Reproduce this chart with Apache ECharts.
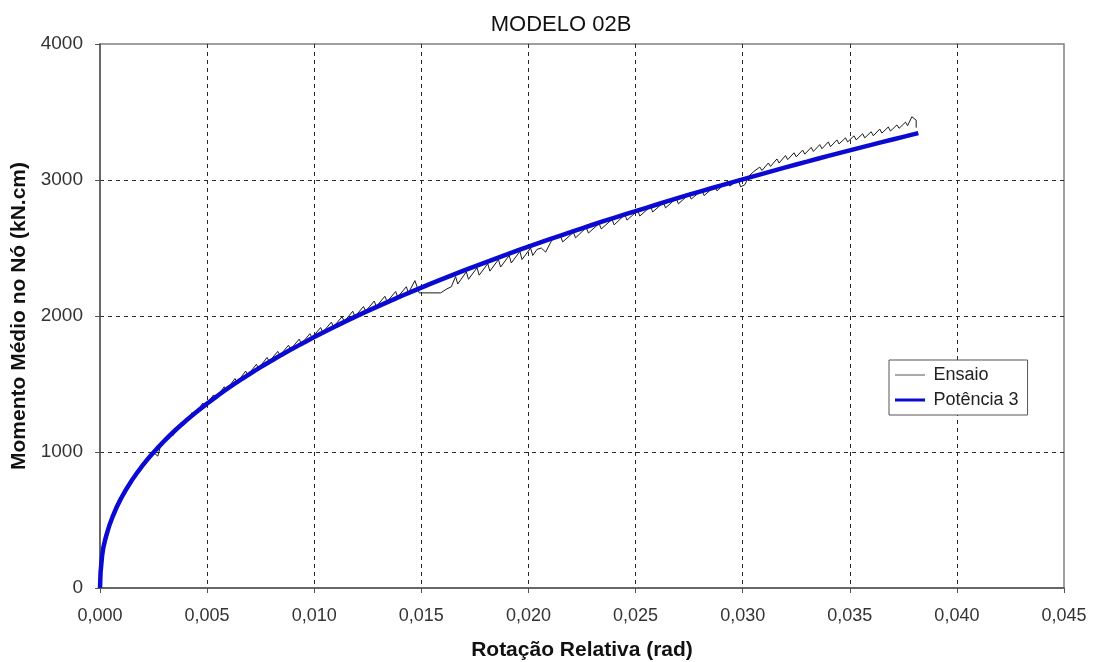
<!DOCTYPE html>
<html>
<head>
<meta charset="utf-8">
<title>MODELO 02B</title>
<script src="https://cdn.jsdelivr.net/npm/echarts@6/dist/echarts.min.js"></script>
<style>
  html, body { margin: 0; padding: 0; background: #ffffff; }
  #chart { width: 1096px; height: 662px; }
</style>
</head>
<body>
<div id="chart"></div>
<script>
// Test readings: relative rotation (rad) vs mean moment at the joint (kN.cm)
const ensaioRot = [
  0, 0.0001, 0.0003, 0.0006, 0.001, 0.0015, 0.002, 0.0025, 0.0027, 0.0028, 0.0030,
  0.0033, 0.0034, 0.0038, 0.0039, 0.0043, 0.0044, 0.0048, 0.0049, 0.0053, 0.0054,
  0.0058, 0.0059, 0.0063, 0.0064, 0.0068, 0.0069, 0.0073, 0.0074, 0.0078, 0.0079,
  0.0083, 0.0084, 0.0088, 0.0089, 0.0093, 0.0094, 0.0098, 0.0099, 0.0103, 0.0104,
  0.0108, 0.0109, 0.0113, 0.0114, 0.0118, 0.0119, 0.0123, 0.0124, 0.0128, 0.0129,
  0.0133, 0.0134, 0.0138, 0.0139, 0.0143, 0.0144, 0.0147, 0.0149, 0.0159, 0.0162,
  0.0164, 0.0166, 0.0167, 0.0171, 0.0172, 0.0176, 0.0177, 0.0181, 0.0182, 0.0186,
  0.0187, 0.0191, 0.0192, 0.0196, 0.0197, 0.0201, 0.0202, 0.0204, 0.0206, 0.0208,
  0.0211, 0.0215, 0.0216, 0.0221, 0.0222, 0.0227, 0.0228, 0.0233, 0.0234, 0.0239,
  0.0240, 0.0245, 0.0246, 0.0251, 0.0252, 0.0257, 0.0258, 0.0263, 0.0264, 0.0269,
  0.0270, 0.0275, 0.0276, 0.0281, 0.0282, 0.0287, 0.0288, 0.0293, 0.0294, 0.0298,
  0.0299, 0.0301, 0.0303, 0.0305, 0.0308, 0.0309, 0.0312, 0.0313, 0.0316, 0.0317,
  0.0320, 0.0321, 0.0324, 0.0325, 0.0328, 0.0329, 0.0332, 0.0333, 0.0336, 0.0337,
  0.0340, 0.0341, 0.0344, 0.0345, 0.0348, 0.0349, 0.0352, 0.0353, 0.0356, 0.0357,
  0.0360, 0.0361, 0.0364, 0.0365, 0.0368, 0.0369, 0.0372, 0.0373, 0.0376, 0.0377,
  0.0379, 0.0381, 0.0381
];
const ensaioMom = [
  0, 230, 380, 525, 660, 790, 905, 995, 970, 1030, 1085,
  1140, 1120, 1220, 1195, 1290, 1268, 1360, 1335, 1420, 1395,
  1480, 1455, 1540, 1510, 1595, 1565, 1645, 1615, 1695, 1665,
  1740, 1710, 1785, 1755, 1830, 1795, 1870, 1840, 1915, 1880,
  1955, 1920, 1995, 1960, 2035, 1995, 2070, 2035, 2110, 2070,
  2145, 2105, 2180, 2140, 2215, 2170, 2260, 2170, 2170, 2200,
  2215, 2290, 2235, 2325, 2270, 2355, 2300, 2385, 2330, 2415,
  2360, 2445, 2390, 2475, 2415, 2500, 2445, 2490, 2500, 2470,
  2560, 2585, 2545, 2615, 2575, 2650, 2610, 2680, 2640, 2710,
  2670, 2745, 2705, 2775, 2735, 2805, 2765, 2835, 2795, 2865,
  2825, 2895, 2860, 2925, 2885, 2955, 2920, 2990, 2955, 3000,
  2950, 2965, 3030, 3060, 3095, 3070, 3125, 3100, 3155, 3125,
  3180, 3150, 3200, 3170, 3220, 3190, 3240, 3210, 3260, 3230,
  3280, 3245, 3295, 3265, 3310, 3280, 3325, 3295, 3340, 3310,
  3355, 3325, 3375, 3345, 3390, 3360, 3405, 3380, 3425, 3400,
  3465, 3440, 3385
];

// Power trendline ("Potência 3")
const fitRot = [
  0, 0.0001, 0.0003, 0.0006, 0.001, 0.0015, 0.002, 0.0025, 0.003, 0.0035, 0.004,
  0.0045, 0.005, 0.0055, 0.006, 0.0065, 0.007, 0.0075, 0.008, 0.0085, 0.009, 0.0095,
  0.010, 0.011, 0.012, 0.013, 0.014, 0.015, 0.016, 0.017, 0.018, 0.019, 0.020,
  0.021, 0.022, 0.023, 0.024, 0.025, 0.026, 0.027, 0.028, 0.029, 0.030, 0.031,
  0.032, 0.033, 0.034, 0.035, 0.036, 0.037, 0.038, 0.0382
];
const fitMom = [
  0, 239, 389, 529, 664, 795, 903, 997, 1081, 1158, 1228,
  1294, 1356, 1415, 1471, 1524, 1575, 1624, 1671, 1717, 1761, 1803,
  1845, 1925, 2001, 2073, 2142, 2209, 2273, 2335, 2395, 2453, 2510,
  2565, 2618, 2671, 2722, 2771, 2820, 2868, 2915, 2960, 3005, 3049,
  3093, 3135, 3177, 3218, 3258, 3298, 3337, 3345
];

// Axis tick values
const xTicks = [0, 0.005, 0.010, 0.015, 0.020, 0.025, 0.030, 0.035, 0.040, 0.045];
const yTicks = [0, 1000, 2000, 3000, 4000];

const pairs = (xs, ys) => xs.map((x, i) => [x, ys[i]]);

const FONT = '"Liberation Sans", Arial, sans-serif';
const chart = echarts.init(document.getElementById('chart'), null, { renderer: 'canvas' });

const gridDash = { type: [4, 4], color: '#2a2a2a', width: 1 };

chart.setOption({
  backgroundColor: '#ffffff',
  animation: false,
  title: {
    text: 'MODELO 02B',
    left: 556,
    top: 9,
    textAlign: 'center',
    textStyle: { fontFamily: FONT, fontSize: 22, fontWeight: 'normal', color: '#111' }
  },
  grid: {
    left: 100, right: 32, top: 44, bottom: 74,
    outerBoundsMode: 'none',
    containLabel: false,
    show: true, borderColor: '#808080', borderWidth: 1.5, backgroundColor: 'transparent'
  },
  legend: {
    orient: 'vertical',
    left: 889,
    top: 360,
    padding: [6, 9, 6, 6],
    itemGap: 7,
    itemWidth: 33,
    itemHeight: 14,
    backgroundColor: '#ffffff',
    borderColor: '#555',
    borderWidth: 1,
    borderRadius: 0,
    textStyle: { fontFamily: FONT, fontSize: 18, color: '#222', padding: [0, 0, 0, 2] },
    data: [
      { name: 'Ensaio', icon: 'path://M0,0h0.01v0.01h-0.01z M0,6.5h30v1h-30z M0,13.99h0.01v0.01h-0.01z' },
      { name: 'Potência 3', icon: 'path://M0,0h0.01v0.01h-0.01z M0,5.5h30v3h-30z M0,13.99h0.01v0.01h-0.01z' }
    ]
  },
  xAxis: {
    type: 'value',
    min: xTicks[0],
    max: xTicks[xTicks.length - 1],
    interval: 0.005,
    name: 'Rotação Relativa (rad)',
    nameLocation: 'middle',
    nameGap: 52,
    nameTextStyle: { fontFamily: FONT, fontSize: 21, fontWeight: 'bold', color: '#111' },
    axisLine: { show: true, lineStyle: { color: '#555', width: 1.5 } },
    axisTick: { show: true, length: 5, inside: false, lineStyle: { color: '#555' } },
    axisLabel: {
      fontFamily: FONT, fontSize: 18, color: '#333', margin: 19,
      formatter: v => v.toFixed(3).replace('.', ',')
    },
    splitLine: { show: true, showMinLine: false, showMaxLine: false, lineStyle: gridDash }
  },
  yAxis: {
    type: 'value',
    min: yTicks[0],
    max: yTicks[yTicks.length - 1],
    interval: 1000,
    name: 'Momento Médio no Nó (kN.cm)',
    nameLocation: 'middle',
    nameGap: 61,
    nameTextStyle: { fontFamily: FONT, fontSize: 21, fontWeight: 'bold', color: '#111' },
    axisLine: { show: true, lineStyle: { color: '#555', width: 1.5 } },
    axisTick: { show: true, length: 5, inside: false, lineStyle: { color: '#555' } },
    axisLabel: {
      fontFamily: FONT, fontSize: 19, color: '#333', margin: 17,
      formatter: v => String(v)
    },
    splitLine: { show: true, showMinLine: false, showMaxLine: false, lineStyle: gridDash }
  },
  series: [
    {
      name: 'Ensaio',
      type: 'line',
      data: pairs(ensaioRot, ensaioMom),
      symbol: 'none',
      smooth: false,
      lineStyle: { color: '#1a1a1a', width: 1 },
      itemStyle: { color: '#555' },
      z: 2
    },
    {
      name: 'Potência 3',
      type: 'line',
      data: pairs(fitRot, fitMom),
      symbol: 'none',
      smooth: true,
      lineStyle: { color: '#0a0ad2', width: 4.5 },
      itemStyle: { color: '#0a0ad2' },
      z: 3
    }
  ]
});
</script>
</body>
</html>
